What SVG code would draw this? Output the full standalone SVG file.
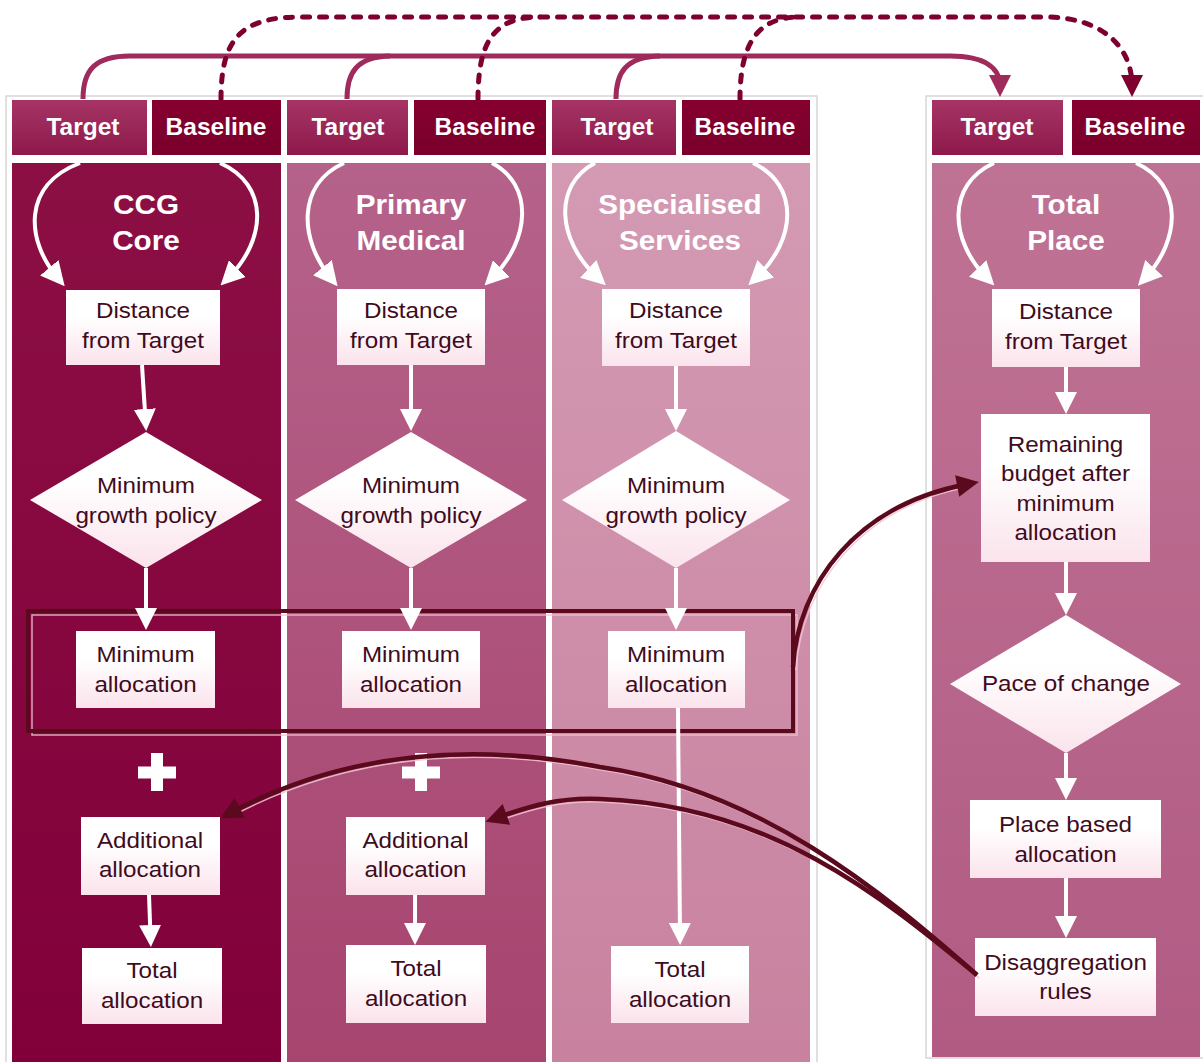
<svg xmlns="http://www.w3.org/2000/svg" width="1203" height="1062" viewBox="0 0 1203 1062">
<defs>
  <linearGradient id="g1" x1="0" y1="0" x2="0" y2="1"><stop offset="0" stop-color="#8c0f44"/><stop offset="1" stop-color="#81003a"/></linearGradient>
  <linearGradient id="g2" x1="0" y1="0" x2="0" y2="1"><stop offset="0" stop-color="#b5628a"/><stop offset="1" stop-color="#a7456f"/></linearGradient>
  <linearGradient id="g3" x1="0" y1="0" x2="0" y2="1"><stop offset="0" stop-color="#d49ab3"/><stop offset="1" stop-color="#c8829f"/></linearGradient>
  <linearGradient id="g4" x1="0" y1="0" x2="0" y2="1"><stop offset="0" stop-color="#bf7394"/><stop offset="1" stop-color="#b15b83"/></linearGradient>
  <linearGradient id="gT" x1="0" y1="0" x2="0" y2="1"><stop offset="0" stop-color="#a53565"/><stop offset="1" stop-color="#8d194a"/></linearGradient>
  <linearGradient id="gB" x1="0" y1="0" x2="0" y2="1"><stop offset="0" stop-color="#86002f"/><stop offset="1" stop-color="#7a002b"/></linearGradient>
  <linearGradient id="gBox" x1="0" y1="0" x2="0" y2="1"><stop offset="0.35" stop-color="#ffffff"/><stop offset="1" stop-color="#fbe3ec"/></linearGradient>
  <marker id="mW" viewBox="0 0 20 20" markerWidth="22" markerHeight="22" refX="10" refY="10" orient="auto" markerUnits="userSpaceOnUse"><path d="M0,0 L20,10 L0,20 z" fill="#ffffff"/></marker>
  <marker id="mA" viewBox="0 0 20 20" markerWidth="24" markerHeight="24" refX="10" refY="10" orient="auto" markerUnits="userSpaceOnUse"><path d="M0,0 L20,10 L0,20 z" fill="#ffffff"/></marker>
  <marker id="mT" viewBox="0 0 20 20" markerWidth="22" markerHeight="22" refX="10" refY="10" orient="auto" markerUnits="userSpaceOnUse"><path d="M0,0 L20,10 L0,20 z" fill="#9e2b5c"/></marker>
  <marker id="mB" viewBox="0 0 20 20" markerWidth="22" markerHeight="22" refX="10" refY="10" orient="auto" markerUnits="userSpaceOnUse"><path d="M0,0 L20,10 L0,20 z" fill="#7d0030"/></marker>
  <marker id="mD" viewBox="0 0 20 20" markerWidth="24" markerHeight="22" refX="10" refY="10" orient="auto" markerUnits="userSpaceOnUse"><path d="M0,0 L20,10 L0,20 z" fill="#5a0a1c"/></marker>
</defs>
<style>
  .hdr{font-family:"Liberation Sans",Arial,sans-serif;font-weight:bold;font-size:24.5px;fill:#ffffff;text-anchor:middle}
  .ttl{font-family:"Liberation Sans",Arial,sans-serif;font-weight:bold;font-size:27px;fill:#ffffff;text-anchor:middle;transform-box:fill-box;transform-origin:center;transform:scaleX(1.1)}
  .lbl{font-family:"Liberation Sans",Arial,sans-serif;font-size:22px;fill:#3f0b20;text-anchor:middle;transform-box:fill-box;transform-origin:center;transform:scaleX(1.1)}
  .box{fill:url(#gBox)}
  .panel{fill:#ffffff;stroke:#d6d6d6;stroke-width:1.5}
  .flow{stroke:#ffffff;stroke-width:4;fill:none;marker-end:url(#mW)}
  .arc{stroke:#ffffff;stroke-width:4;fill:none;marker-end:url(#mA)}
  .tgt{stroke:#9e2b5c;stroke-width:5;fill:none}
  .base{stroke:#7d0030;stroke-width:5;fill:none;stroke-dasharray:7 10;stroke-linecap:round}
  .dark{stroke:#5a0a1c;stroke-width:4.5;fill:none}
  .glow{stroke:#f2c4d5;stroke-width:1.5;fill:none;opacity:0.85}
  .plus{fill:#ffffff}
</style>

<g id="panels">
  <rect class="panel" x="6" y="96" width="811" height="975"/>
  <rect class="panel" x="926" y="96" width="290" height="962"/>
</g>

<g id="columns">
  <rect x="12" y="163" width="269" height="900" fill="url(#g1)"/>
  <rect x="287" y="163" width="259" height="900" fill="url(#g2)"/>
  <rect x="552" y="163" width="258" height="900" fill="url(#g3)"/>
  <rect x="932" y="163" width="268" height="894" fill="url(#g4)"/>
</g>

<g id="headers">
  <g id="target-ccg"><rect x="12" y="100" width="135" height="55" fill="url(#gT)"/><text class="hdr" x="83" y="135">Target</text></g>
  <g id="baseline-ccg"><rect x="152" y="100" width="129" height="55" fill="url(#gB)"/><text class="hdr" x="216" y="135">Baseline</text></g>
  <g id="target-pm"><rect x="287" y="100" width="121" height="55" fill="url(#gT)"/><text class="hdr" x="348" y="135">Target</text></g>
  <g id="baseline-pm"><rect x="414" y="100" width="132" height="55" fill="url(#gB)"/><text class="hdr" x="485" y="135">Baseline</text></g>
  <g id="target-ss"><rect x="552" y="100" width="124" height="55" fill="url(#gT)"/><text class="hdr" x="617" y="135">Target</text></g>
  <g id="baseline-ss"><rect x="682" y="100" width="128" height="55" fill="url(#gB)"/><text class="hdr" x="745" y="135">Baseline</text></g>
  <g id="target-tp"><rect x="932" y="100" width="131" height="55" fill="url(#gT)"/><text class="hdr" x="997" y="135">Target</text></g>
  <g id="baseline-tp"><rect x="1072" y="100" width="128" height="55" fill="url(#gB)"/><text class="hdr" x="1135" y="135">Baseline</text></g>
</g>

<g id="titles">
  <g id="title-ccg"><text class="ttl" x="146" y="214">CCG</text><text class="ttl" x="146" y="250">Core</text></g>
  <g id="title-pm"><text class="ttl" x="411" y="214">Primary</text><text class="ttl" x="411" y="250">Medical</text></g>
  <g id="title-ss"><text class="ttl" x="680" y="214">Specialised</text><text class="ttl" x="680" y="250">Services</text></g>
  <g id="title-tp"><text class="ttl" x="1066" y="214">Total</text><text class="ttl" x="1066" y="250">Place</text></g>
</g>

<g id="highlight">
  <rect x="32" y="615" width="765" height="120" fill="none" stroke="#f0c0d2" stroke-width="1.5" opacity="0.85"/>
  <rect x="28" y="611" width="765" height="120" fill="none" stroke="#5a0a1c" stroke-width="4"/>
</g>

<g id="nodes">
  <g id="dist-ccg"><rect class="box" x="66" y="290" width="154" height="75"/><text class="lbl" x="143" y="318">Distance</text><text class="lbl" x="143" y="348">from Target</text></g>
  <g id="mgp-ccg"><polygon class="box" points="146,432 262,500 146,568 30,500"/><text class="lbl" x="146" y="493">Minimum</text><text class="lbl" x="146" y="523">growth policy</text></g>
  <g id="min-ccg"><rect class="box" x="76" y="631" width="139" height="77"/><text class="lbl" x="145.5" y="662">Minimum</text><text class="lbl" x="145.5" y="692">allocation</text></g>
  <g id="plus-ccg"><path class="plus" d="M138,766.5 h38 v12 h-38 z M151,753 h12 v38 h-12 z"/></g>
  <g id="add-ccg"><rect class="box" x="81" y="817" width="139" height="78"/><text class="lbl" x="150" y="848">Additional</text><text class="lbl" x="150" y="877">allocation</text></g>
  <g id="tot-ccg"><rect class="box" x="82" y="948" width="140" height="76"/><text class="lbl" x="152" y="978">Total</text><text class="lbl" x="152" y="1008">allocation</text></g>

  <g id="dist-pm"><rect class="box" x="337" y="289" width="148" height="76"/><text class="lbl" x="411" y="318">Distance</text><text class="lbl" x="411" y="348">from Target</text></g>
  <g id="mgp-pm"><polygon class="box" points="411,432 527,500 411,568 295,500"/><text class="lbl" x="411" y="493">Minimum</text><text class="lbl" x="411" y="523">growth policy</text></g>
  <g id="min-pm"><rect class="box" x="342" y="631" width="138" height="77"/><text class="lbl" x="411" y="662">Minimum</text><text class="lbl" x="411" y="692">allocation</text></g>
  <g id="plus-pm"><path class="plus" d="M402,766.5 h38 v12 h-38 z M415,753 h12 v38 h-12 z"/></g>
  <g id="add-pm"><rect class="box" x="346" y="817" width="139" height="78"/><text class="lbl" x="415.5" y="848">Additional</text><text class="lbl" x="415.5" y="877">allocation</text></g>
  <g id="tot-pm"><rect class="box" x="346" y="945" width="140" height="78"/><text class="lbl" x="416" y="976">Total</text><text class="lbl" x="416" y="1006">allocation</text></g>

  <g id="dist-ss"><rect class="box" x="602" y="289" width="148" height="77"/><text class="lbl" x="676" y="318">Distance</text><text class="lbl" x="676" y="348">from Target</text></g>
  <g id="mgp-ss"><polygon class="box" points="676,431 790,500 676,568 562,500"/><text class="lbl" x="676" y="493">Minimum</text><text class="lbl" x="676" y="523">growth policy</text></g>
  <g id="min-ss"><rect class="box" x="608" y="631" width="137" height="77"/><text class="lbl" x="676" y="662">Minimum</text><text class="lbl" x="676" y="692">allocation</text></g>
  <g id="tot-ss"><rect class="box" x="611" y="946" width="138" height="77"/><text class="lbl" x="680" y="977">Total</text><text class="lbl" x="680" y="1007">allocation</text></g>

  <g id="dist-tp"><rect class="box" x="992" y="289" width="148" height="78"/><text class="lbl" x="1066" y="319">Distance</text><text class="lbl" x="1066" y="349">from Target</text></g>
  <g id="remaining-tp"><rect class="box" x="981" y="414" width="169" height="148"/><text class="lbl" x="1065.5" y="452">Remaining</text><text class="lbl" x="1065.5" y="481">budget after</text><text class="lbl" x="1065.5" y="511">minimum</text><text class="lbl" x="1065.5" y="540">allocation</text></g>
  <g id="pace-tp"><polygon class="box" points="1066,615 1181,684 1066,753 950,684"/><text class="lbl" x="1066" y="691">Pace of change</text></g>
  <g id="place-tp"><rect class="box" x="970" y="800" width="191" height="78"/><text class="lbl" x="1065.5" y="832">Place based</text><text class="lbl" x="1065.5" y="862">allocation</text></g>
  <g id="disagg-tp"><rect class="box" x="975" y="938" width="181" height="78"/><text class="lbl" x="1065.5" y="970">Disaggregation</text><text class="lbl" x="1065.5" y="999">rules</text></g>
</g>

<g id="connectors">
  <!-- cycle arcs -->
  <path class="arc" d="M80,163 C22,185 26,240 57,277"/>
  <path class="arc" d="M220,163 C270,185 266,240 229,277"/>
  <path class="arc" d="M344,163 C296,185 300,240 330,277"/>
  <path class="arc" d="M492,163 C534,185 530,240 493,277"/>
  <path class="arc" d="M595,163 C553,185 557,240 597,277"/>
  <path class="arc" d="M753,163 C800,185 796,240 757,277"/>
  <path class="arc" d="M994,163 C946,185 950,240 986,277"/>
  <path class="arc" d="M1136,163 C1184,185 1180,240 1146,277"/>
  <!-- vertical flows -->
  <path class="flow" d="M142,365 L145.5,420"/>
  <path class="flow" d="M146,568 V619"/>
  <path class="flow" d="M149,895 L150.5,936"/>
  <path class="flow" d="M411,365 V420"/>
  <path class="flow" d="M411,568 V619"/>
  <path class="flow" d="M415,895 V934"/>
  <path class="flow" d="M676,366 V420"/>
  <path class="flow" d="M676,568 V619"/>
  <path class="flow" d="M678,708 L680,934"/>
  <path class="flow" d="M1066,367 V403"/>
  <path class="flow" d="M1066,562 V604"/>
  <path class="flow" d="M1066,753 V789"/>
  <path class="flow" d="M1066,878 V927"/>
  <!-- top target lines -->
  <path class="tgt" d="M347,99 C347,72 357,57 390,56"/>
  <path class="tgt" d="M616,99 C616,72 626,57 660,56"/>
  <path class="tgt" d="M83,99 C83,70 95,56 130,56 H950 C985,56 1000,68 1000,86" marker-end="url(#mT)"/>
  <!-- top baseline dashed lines -->
  <path class="base" d="M478,99 C478,40 495,17 540,17"/>
  <path class="base" d="M740,99 C740,40 760,17 800,17"/>
  <path class="base" d="M221,99 C221,40 240,17 300,17 H1045 C1100,17 1132,45 1132,86" marker-end="url(#mB)"/>
  <!-- minimum allocation to remaining budget -->
  <path class="glow" d="M796,670 C801,588 858,508 968,487"/>
  <path class="dark" d="M793,667 C798,585 855,505 968,484" marker-end="url(#mD)"/>
  <!-- disaggregation to additional allocations -->
  <path class="glow" d="M979,978 C882,893 762,793 602,770 C452,741 332,763 232,816"/>
  <path class="glow" d="M979,978 C882,898 772,808 602,802 C562,800 532,809 498,821"/>
  <path class="dark" d="M977,975 C880,890 760,790 600,767 C450,738 330,760 230,813" marker-end="url(#mD)"/>
  <path class="dark" d="M977,975 C880,895 770,805 600,799 C560,797 530,806 496,818" marker-end="url(#mD)"/>
</g>
</svg>
